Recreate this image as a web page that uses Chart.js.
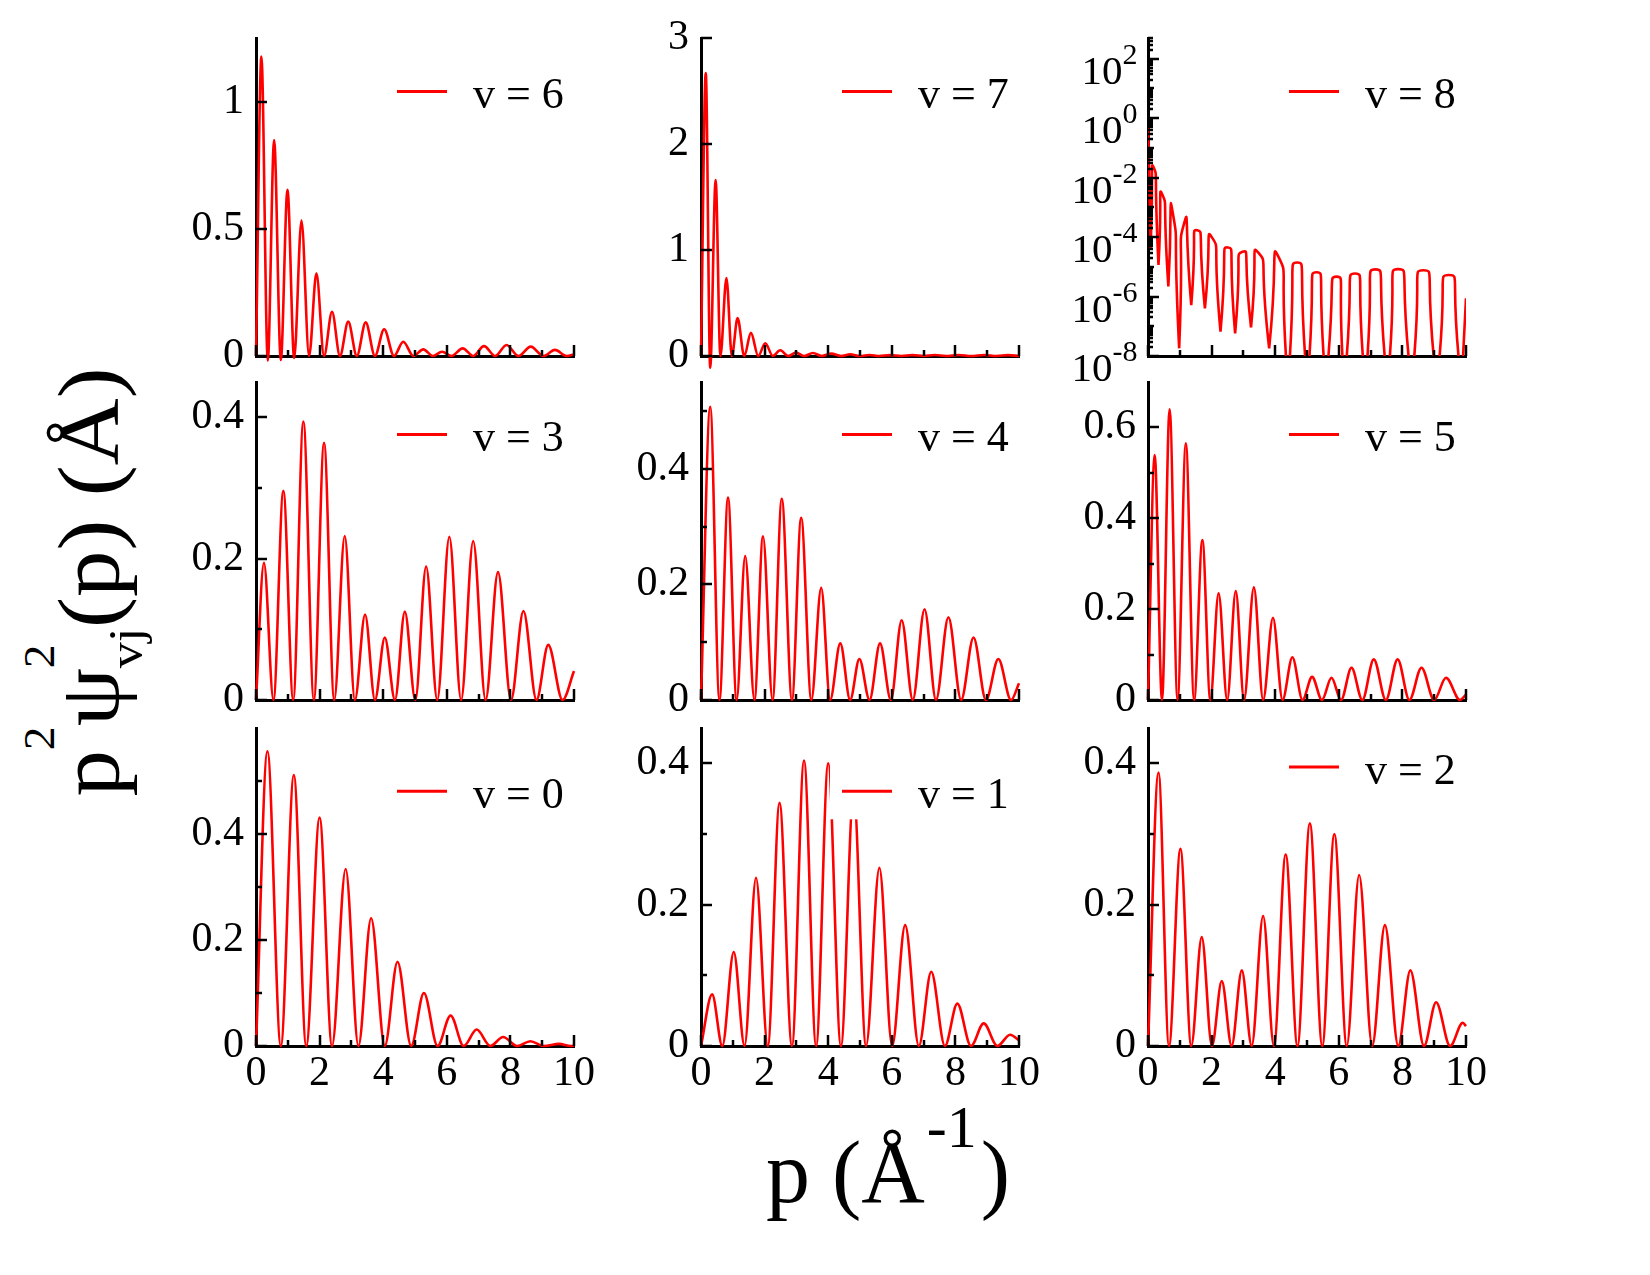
<!DOCTYPE html>
<html>
<head>
<meta charset="utf-8">
<title>p2 psi2 vj(p)</title>
<script src="https://cdn.jsdelivr.net/npm/chart.js@4.4.1/dist/chart.umd.min.js"></script>
<style>
  html, body { margin:0; padding:0; background:#ffffff; }
  body { position:relative; width:1650px; height:1275px; overflow:hidden; font-family:"Liberation Serif","Times New Roman",serif; color:#000; }
  canvas { position:absolute; }
  .title { position:absolute; white-space:nowrap; line-height:1; font-family:"Liberation Serif","Times New Roman",serif; color:#000; }
  #xt { left:766px; top:1129px; font-size:88px; }
  #xt .xsup { position:relative; font-size:60px; top:-55px; margin-left:2px; margin-right:4px; }
  #yt { left:89px; top:582px; font-size:86px; transform:translate(-50%,-50%) rotate(-90deg) scaleX(1.08); }
  #yt .ysup { position:relative; font-size:44px; top:-64px; }
  #yt .ysub { position:relative; font-size:48px; top:24px; margin-left:-22px; }
</style>
</head>
<body>
<div id="yt" class="title">p<span class="ysup">2</span>ψ<span class="ysup">2</span><span class="ysub">vj</span>(p) (Å)</div>
<div id="xt" class="title">p (Å<span class="xsup">-1</span>)</div>
<script>
// ---------------- data ----------------
const xMajorTicks = [0, 2, 4, 6, 8, 10];
const xMinorTicks = [1, 3, 5, 7, 9];
const xTickLabels = ['0', '2', '4', '6', '8', '10'];

// v = 0
const p0 = [0,0.36,0.78,1.19,1.58,2.00,2.39,2.82,3.22,3.62,4.05,4.45,4.88,5.28,5.71,6.12,6.53,6.94,7.37,7.77,8.21,8.63,9.05,9.53,9.90,10];
const w0 = [0,0.556,0,0.511,0,0.431,0,0.334,0,0.241,0,0.159,0,0.100,0,0.0575,0,0.031,0,0.017,0,0.009,0,0.004,0,0.001];
const y0Ticks = [0, 0.2, 0.4];
const y0Labels = ['0', '0.2', '0.4'];
const y0Minor = [0.1, 0.3, 0.5];

// v = 1
const p1 = [0,0.35,0.67,1.03,1.37,1.73,2.10,2.47,2.86,3.24,3.62,4.00,4.40,4.80,5.19,5.61,6.01,6.42,6.85,7.24,7.67,8.06,8.49,8.89,9.32,9.72,10];
const w1 = [0,0.073,0,0.133,0,0.238,0,0.344,0,0.404,0,0.400,0,0.36,0,0.252,0,0.171,0,0.105,0,0.060,0,0.032,0,0.016,0.008];
const y1Ticks = [0, 0.2, 0.4];
const y1Labels = ['0', '0.2', '0.4'];
const y1Minor = [0.1, 0.3];

// v = 2
const p2 = [0,0.33,0.66,1.02,1.36,1.69,2.01,2.32,2.63,2.95,3.26,3.62,3.96,4.33,4.70,5.09,5.48,5.86,6.25,6.64,7.05,7.45,7.87,8.25,8.68,9.06,9.50,9.90,10];
const w2 = [0,0.387,0,0.279,0,0.154,0,0.092,0,0.107,0,0.184,0,0.271,0,0.315,0,0.300,0,0.242,0,0.171,0,0.107,0,0.062,0,0.033,0.028];
const y2Ticks = [0, 0.2, 0.4];
const y2Labels = ['0', '0.2', '0.4'];
const y2Minor = [0.1, 0.3];

// v = 3
const p3 = [0,0.25,0.55,0.86,1.17,1.49,1.82,2.14,2.46,2.79,3.11,3.43,3.74,4.05,4.37,4.68,5.01,5.35,5.70,6.08,6.45,6.83,7.22,7.61,8.02,8.41,8.82,9.19,9.64,10];
const w3 = [0,0.194,0,0.296,0,0.394,0,0.364,0,0.232,0,0.121,0,0.0885,0,0.125,0,0.189,0,0.231,0,0.225,0,0.181,0,0.126,0,0.078,0,0.041];
const y3Ticks = [0, 0.2, 0.4];
const y3Labels = ['0', '0.2', '0.4'];
const y3Minor = [0.1, 0.3];

// v = 4
const p4 = [0,0.29,0.58,0.85,1.12,1.39,1.68,1.95,2.25,2.54,2.86,3.15,3.47,3.78,4.06,4.38,4.69,4.98,5.30,5.63,5.97,6.31,6.66,7.03,7.39,7.78,8.18,8.57,8.96,9.35,9.75,10];
const w4 = [0,0.507,0,0.350,0,0.249,0,0.283,0,0.348,0,0.315,0,0.194,0,0.098,0,0.071,0,0.098,0,0.138,0,0.157,0,0.143,0,0.108,0,0.071,0,0.029];
const y4Ticks = [0, 0.2, 0.4];
const y4Labels = ['0', '0.2', '0.4'];
const y4Minor = [0.1, 0.3, 0.5];

// v = 5
const p5 = [0,0.21,0.44,0.68,0.93,1.19,1.45,1.71,1.96,2.22,2.49,2.76,3.02,3.33,3.62,3.93,4.23,4.54,4.86,5.16,5.47,5.77,6.07,6.40,6.74,7.10,7.48,7.85,8.22,8.60,9.00,9.37,9.81,10];
const w5 = [0,0.539,0,0.640,0,0.565,0,0.352,0,0.235,0,0.240,0,0.248,0,0.181,0,0.094,0,0.051,0,0.049,0,0.071,0,0.0895,0,0.0895,0,0.071,0,0.049,0,0.012];
const y5Ticks = [0, 0.2, 0.4, 0.6];
const y5Labels = ['0', '0.2', '0.4', '0.6'];
const y5Minor = [0.1, 0.3, 0.5];

// v = 6
const p6 = [0,0.17,0.37,0.57,0.78,0.99,1.20,1.43,1.67,1.90,2.14,2.39,2.64,2.90,3.17,3.45,3.74,4.03,4.34,4.63,4.95,5.26,5.56,5.85,6.15,6.50,6.83,7.17,7.52,7.88,8.25,8.64,9.04,9.40,9.77,10];
const w6 = [0,1.177,-0.018,0.849,-0.016,0.653,-0.008,0.532,0,0.325,0,0.174,0,0.135,0,0.132,0,0.105,0,0.056,0,0.026,0,0.017,0,0.030,0,0.039,0,0.043,0,0.037,0,0.024,0,0.006];
const y6Ticks = [0, 0.5, 1];
const y6Labels = ['0', '0.5', '1'];
const y6Minor = [];

// v = 7
const p7 = [0,0.15,0.29,0.46,0.61,0.80,0.97,1.15,1.36,1.57,1.80,2.02,2.26,2.49,2.74,2.99,3.25,3.52,3.80,4.10,4.40,4.69,5.00,5.30,5.60,5.95,6.30,6.65,7.00,7.35,7.70,8.10,8.50,8.90,9.30,9.65,10];
const w7 = [0,2.67,-0.11,1.66,0,0.736,0,0.357,0,0.218,0,0.12,0,0.054,0,0.032,0,0.028,0,0.022,0,0.016,0,0.010,0,0.008,0,0.008,0,0.009,0,0.010,0,0.010,0,0.008,0];
const y7Ticks = [0, 1, 2, 3];
const y7Labels = ['0', '1', '2', '3'];
const y7Minor = [];

// v = 8 (logarithmic axis): minima and maxima of the arches
const v8StartP = [0, 0.08];
const v8StartW = [1.0, 4.2e-5];
const v8DipP  = [0.08,0.33,0.64,0.98,1.36,1.79,2.28,2.74,3.24,3.81,4.40,5.01,5.59,6.17,6.83,7.53,8.29,9.08,9.86];
const v8DipW  = [4.2e-5,1.15e-5,2.2e-6,1.8e-8,5.1e-7,4.0e-7,6.6e-8,5.8e-8,9.1e-8,1.8e-8,1e-9,1e-9,1e-9,1e-9,1e-9,1e-9,1e-9,1e-9,1e-9];
const v8PeakP = [0.18,0.45,0.77,1.14,1.55,2.01,2.51,2.97,3.47,4.10,4.69,5.30,5.93,6.51,7.15,7.87,8.66,9.46];
const v8PeakW = [0.022,2.7e-3,7.4e-4,3.0e-4,1.7e-4,9.8e-5,4.5e-5,3.2e-5,3.0e-5,2.2e-5,1.4e-5,6.6e-6,4.7e-6,6.0e-6,8.2e-6,8.4e-6,7.7e-6,5.3e-6];
const v8EndP = [9.86, 10];
const v8EndW = [1e-9, 8.7e-7];
const y8Decades = [-8, -6, -4, -2, 0, 2];

const legendLabels = ['v = 0','v = 1','v = 2','v = 3','v = 4','v = 5','v = 6','v = 7','v = 8'];

// ---------------- layout / style ----------------
const FONT = '"Liberation Serif", "Times New Roman", serif';
const RED = '#ff0000';
const COL_LEFT = [256, 701, 1148];
const ROW_TOP = [38, 382, 728];
const AREA_W = 318, AREA_H = 318;
const PADL = 100, PADT = 42, PADR = 45, PADB = 70;
const TICK_FONT = 42;

function pairs(px, py) { return px.map((x, i) => ({ x: x, y: py[i] })); }

function v8Points() {
  const pts = pairs(v8StartP, v8StartW);
  for (let i = 0; i < v8PeakP.length; i++) {
    pts.push({ x: v8DipP[i], y: null });
    pts.push({ x: v8DipP[i], y: v8DipW[i] });
    pts.push({ x: v8PeakP[i], y: v8PeakW[i] });
    pts.push({ x: v8DipP[i + 1], y: v8DipW[i + 1] });
  }
  pts.push({ x: v8EndP[0], y: null });
  return pts.concat(pairs(v8EndP, v8EndW));
}

const panels = [
  { v: 6, col: 0, row: 0, points: pairs(p6, w6), ymax: 1.25, ticks: y6Ticks, labels: y6Labels, minor: y6Minor, legendDy: 53.5 },
  { v: 7, col: 1, row: 0, points: pairs(p7, w7), ymax: 3,    ticks: y7Ticks, labels: y7Labels, minor: y7Minor, legendDy: 53.5 },
  { v: 8, col: 2, row: 0, points: v8Points(), log: true, legendDy: 53.5 },
  { v: 3, col: 0, row: 1, points: pairs(p3, w3), ymax: 0.45, ticks: y3Ticks, labels: y3Labels, minor: y3Minor, legendDy: 52.6 },
  { v: 4, col: 1, row: 1, points: pairs(p4, w4), ymax: 0.55, ticks: y4Ticks, labels: y4Labels, minor: y4Minor, legendDy: 52.6 },
  { v: 5, col: 2, row: 1, points: pairs(p5, w5), ymax: 0.70, ticks: y5Ticks, labels: y5Labels, minor: y5Minor, legendDy: 52.6 },
  { v: 0, col: 0, row: 2, points: pairs(p0, w0), ymax: 0.60, ticks: y0Ticks, labels: y0Labels, minor: y0Minor, legendDy: 63.3 },
  { v: 1, col: 1, row: 2, points: pairs(p1, w1), ymax: 0.45, ticks: y1Ticks, labels: y1Labels, minor: y1Minor, legendDy: 63.3 },
  { v: 2, col: 2, row: 2, points: pairs(p2, w2), ymax: 0.45, ticks: y2Ticks, labels: y2Labels, minor: y2Minor, legendDy: 39.1 }
];

function makeDecor(panel) {
  return {
    id: 'decor',
    afterDatasetsDraw(chart) {
      const { ctx, chartArea: a, scales: { x, y } } = chart;
      ctx.save();
      // legend (opaque box, as in the original)
      const lx = a.left + 141, ly = a.top + panel.legendDy;
      ctx.fillStyle = '#ffffff';
      ctx.fillRect(lx - 12, ly - 28, a.right - (lx - 12) + 4, 56);
      ctx.strokeStyle = RED; ctx.lineWidth = 3;
      ctx.beginPath(); ctx.moveTo(lx, ly); ctx.lineTo(lx + 50, ly); ctx.stroke();
      ctx.fillStyle = '#000'; ctx.font = '44px ' + FONT;
      ctx.textAlign = 'left'; ctx.textBaseline = 'alphabetic';
      ctx.fillText(chart.data.datasets[0].label, lx + 76, ly + 16.5);

      // inward tick marks
      ctx.strokeStyle = '#000'; ctx.lineWidth = 2.5;
      const tick = (x1, y1, x2, y2) => { ctx.beginPath(); ctx.moveTo(x1, y1); ctx.lineTo(x2, y2); ctx.stroke(); };
      xMajorTicks.forEach(v => { const px = Math.round(x.getPixelForValue(v)); tick(px, a.bottom, px, a.bottom - 11); });
      xMinorTicks.forEach(v => { const px = Math.round(x.getPixelForValue(v)); tick(px, a.bottom, px, a.bottom - 6); });
      if (panel.log) {
        for (let k = -8; k <= 2; k++) {
          const len = (y8Decades.indexOf(k) >= 0) ? 11 : 6;
          const py = Math.round(y.getPixelForValue(Math.pow(10, k)));
          tick(a.left, py, a.left + len, py);
          for (let m = 2; m <= 9; m++) {
            const val = m * Math.pow(10, k);
            if (val > 500) break;
            const pm = Math.round(y.getPixelForValue(val));
            tick(a.left, pm, a.left + 5, pm);
          }
        }
        // decade labels 10^k
        ctx.fillStyle = '#000'; ctx.textAlign = 'right'; ctx.textBaseline = 'alphabetic';
        y8Decades.forEach(k => {
          const py = y.getPixelForValue(Math.pow(10, k));
          const xr = a.left - 10.5;
          ctx.font = '30px ' + FONT;
          const ex = String(k);
          const ew = ctx.measureText(ex).width;
          ctx.fillText(ex, xr, py + 5);
          ctx.font = '41px ' + FONT;
          ctx.fillText('10', xr - ew, py + 25);
        });
      } else {
        panel.ticks.forEach(v => { const py = Math.round(y.getPixelForValue(v)); tick(a.left, py, a.left + 11, py); });
        panel.minor.forEach(v => { const py = Math.round(y.getPixelForValue(v)); tick(a.left, py, a.left + 6, py); });
      }
      ctx.restore();
    }
  };
}

function makeChart(panel) {
  const cv = document.createElement('canvas');
  const W = PADL + AREA_W + PADR, H = PADT + AREA_H + PADB;
  cv.width = W; cv.height = H;
  cv.style.width = W + 'px'; cv.style.height = H + 'px';
  cv.style.left = (COL_LEFT[panel.col] - PADL) + 'px';
  cv.style.top = (ROW_TOP[panel.row] - PADT) + 'px';
  document.body.appendChild(cv);
  const bottomRow = panel.row === 2;
  const axisBorder = { display: true, color: '#000', width: 3 };
  const noGrid = { display: false, drawTicks: false };
  const yScale = panel.log ? {
    type: 'logarithmic', min: 1e-8, max: 500,
    afterBuildTicks: s => { s.ticks = y8Decades.map(k => ({ value: Math.pow(10, k) })); },
    ticks: { display: false },
    grid: noGrid, border: axisBorder,
    afterFit: s => { s.width = PADL; }
  } : {
    type: 'linear', min: 0, max: panel.ymax,
    afterBuildTicks: s => { s.ticks = panel.ticks.map(v => ({ value: v })); },
    ticks: { color: '#000', padding: 12, font: { family: FONT, size: TICK_FONT },
             callback: (v, i) => panel.labels[i] },
    grid: noGrid, border: axisBorder,
    afterFit: s => { s.width = PADL; }
  };
  const dataset = {
    label: legendLabels[panel.v],
    data: panel.points,
    borderColor: RED, borderWidth: 2.6, pointRadius: 0, fill: false
  };
  if (panel.log) {
    dataset.cubicInterpolationMode = 'default';
    dataset.tension = 1;
  } else {
    dataset.cubicInterpolationMode = 'monotone';
    dataset.clip = false;
  }
  new Chart(cv.getContext('2d'), {
    type: 'line',
    data: { datasets: [dataset] },
    options: {
      responsive: false, animation: false, devicePixelRatio: 1, events: [],
      layout: { padding: { left: 0, top: PADT, right: PADR, bottom: 0 } },
      elements: { line: { capBezierPoints: false } },
      plugins: { legend: { display: false }, tooltip: { enabled: false }, title: { display: false } },
      scales: {
        x: {
          type: 'linear', min: 0, max: 10,
          afterBuildTicks: s => { s.ticks = xMajorTicks.map(v => ({ value: v })); },
          ticks: { display: bottomRow, color: '#000', padding: 3, maxRotation: 0, autoSkip: false,
                   font: { family: FONT, size: TICK_FONT }, callback: (v, i) => xTickLabels[i] },
          grid: noGrid, border: axisBorder,
          afterFit: s => { s.height = PADB; }
        },
        y: yScale
      }
    },
    plugins: [makeDecor(panel)]
  });
}

panels.forEach(makeChart);
</script>
</body>
</html>
